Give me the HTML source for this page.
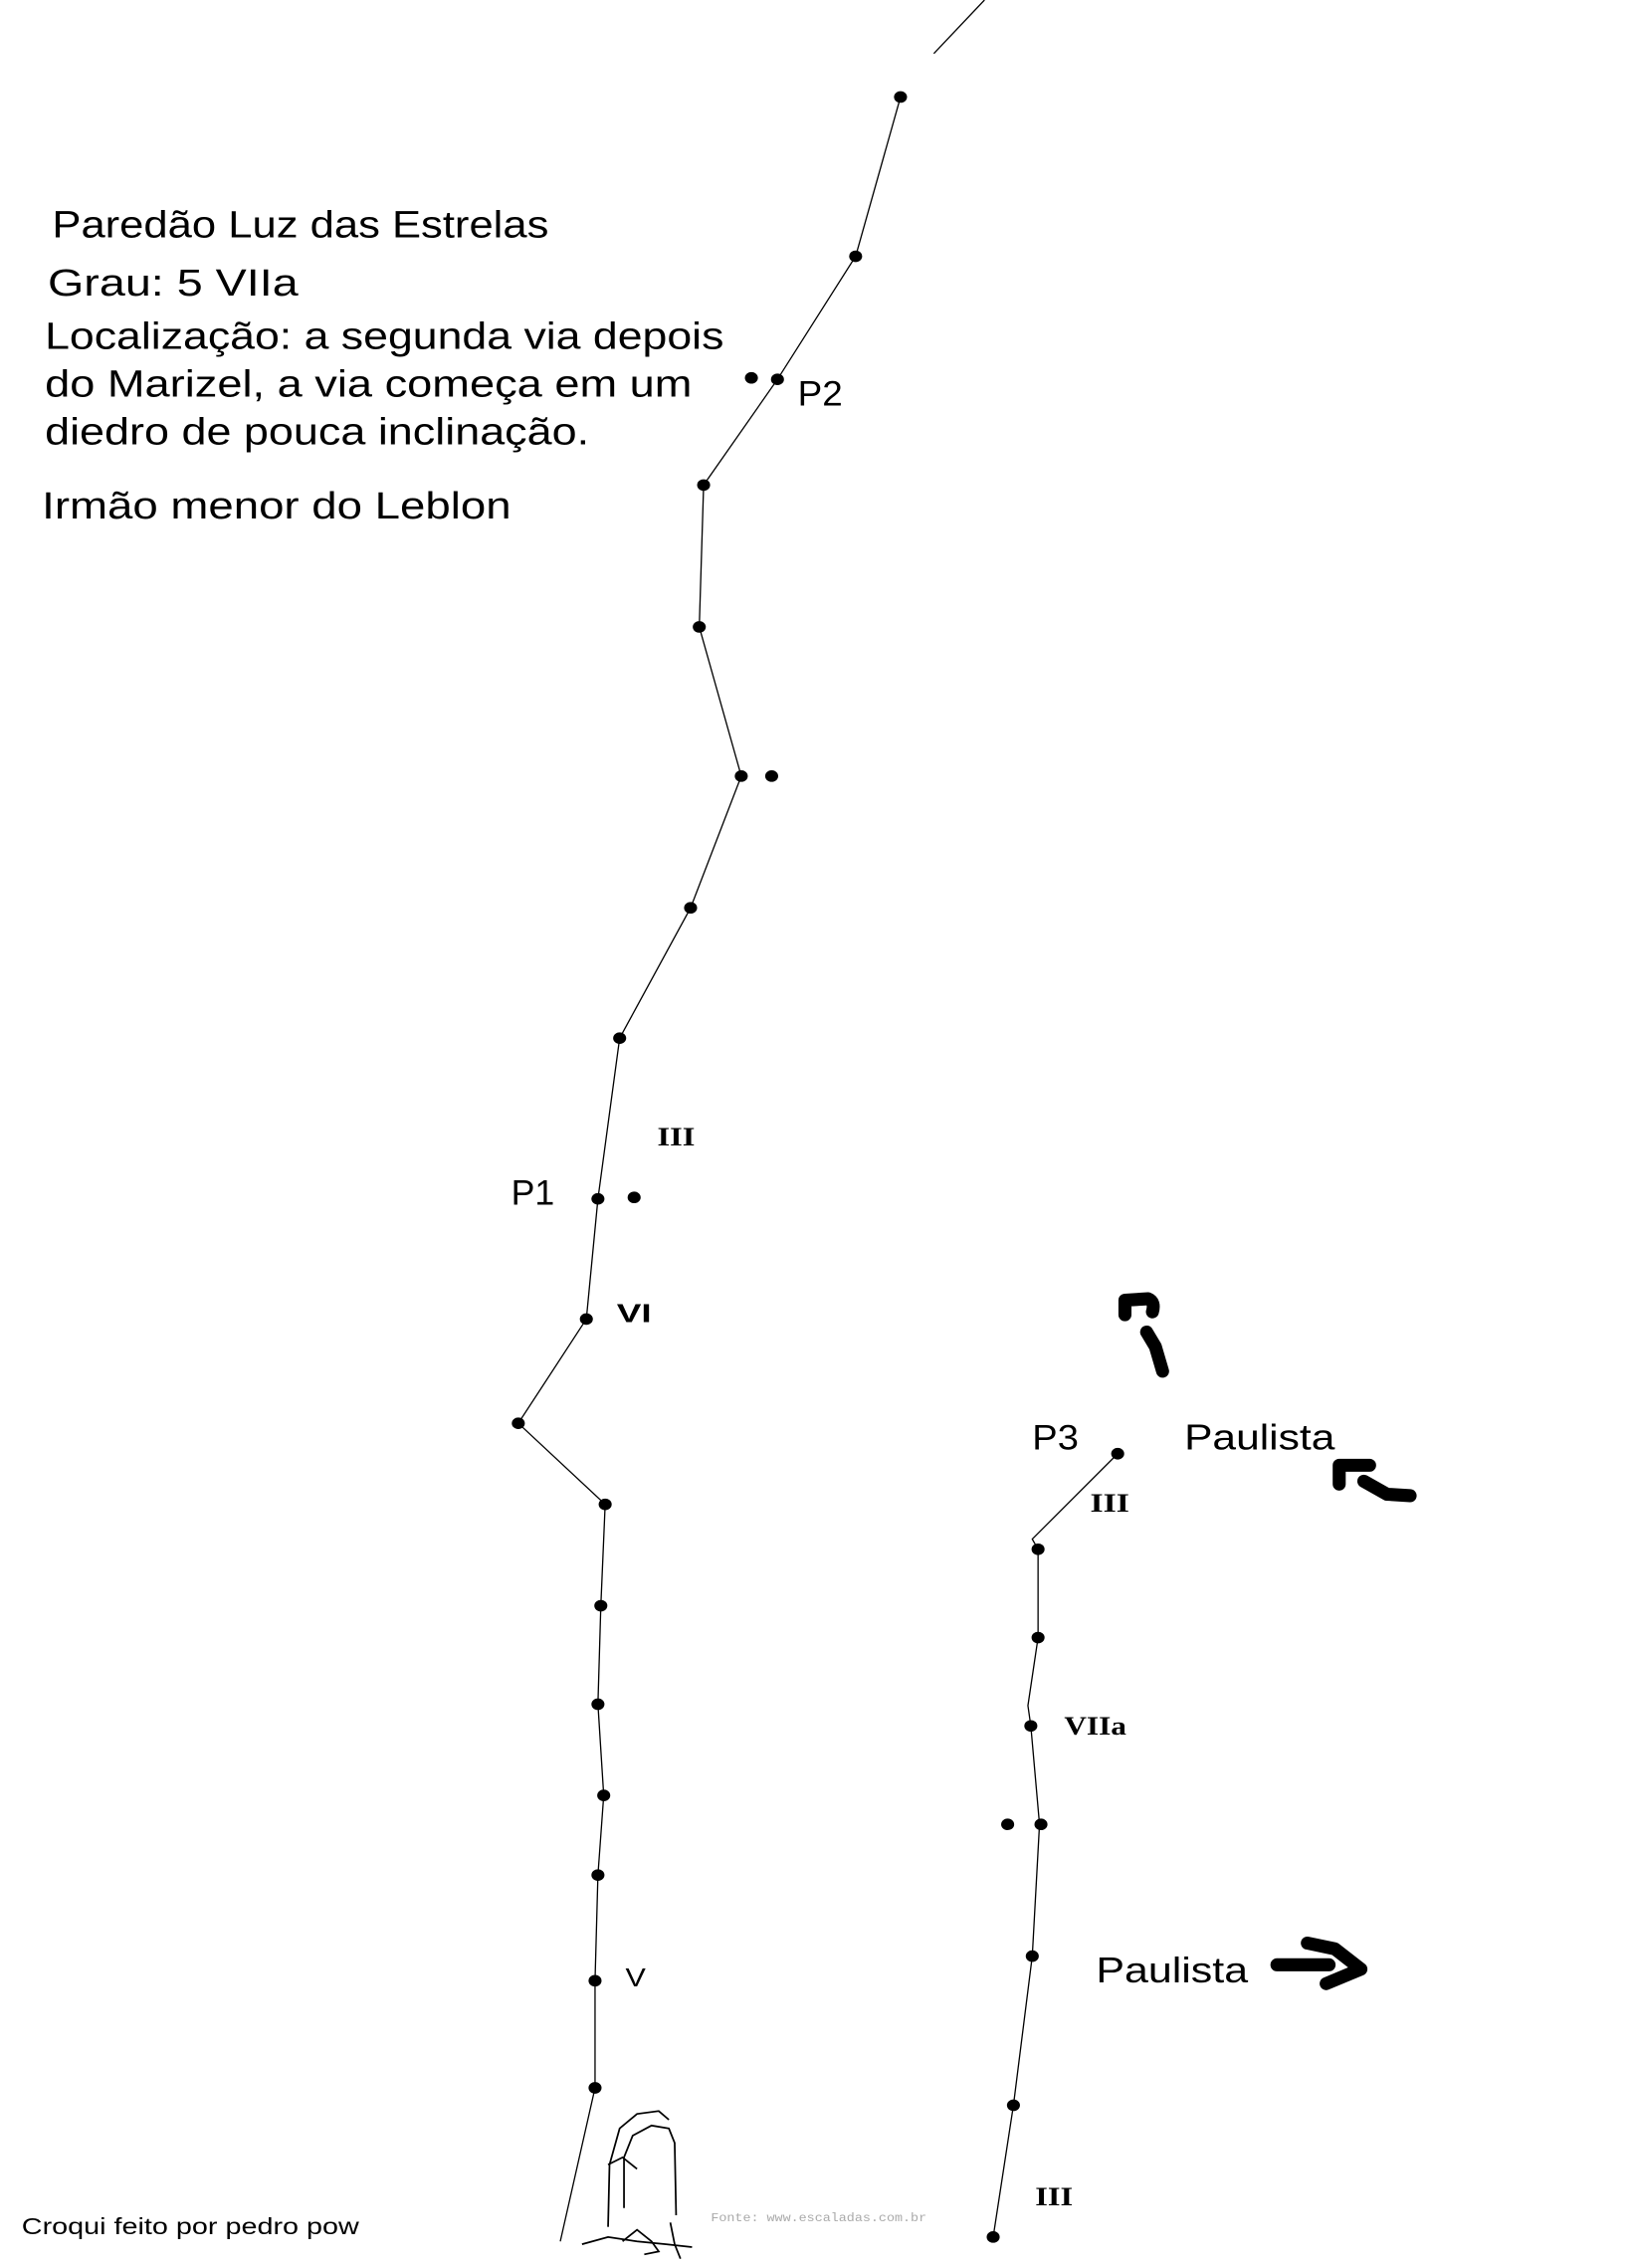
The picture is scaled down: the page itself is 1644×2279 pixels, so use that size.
<!DOCTYPE html>
<html><head><meta charset="utf-8"><style>html,body{margin:0;padding:0;background:#fff}svg{display:block}</style></head>
<body>
<svg width="1644" height="2279" viewBox="0 0 1130 1566.4" preserveAspectRatio="none" xmlns="http://www.w3.org/2000/svg">
<rect width="1130" height="1567" fill="#fff"/>
<g fill="none" stroke="#000" stroke-width="0.9">
<line x1="645" y1="37" x2="680" y2="0"/>
<polyline points="622,67 591,177 537,262 486,335 483,433 512,536 477,627 428,717 413,828 405,911 358,983 418,1039 415,1109 413,1177 417,1240 413,1295 411,1368 411,1442 387,1548"/>
<polyline points="772,1004 713,1063 717,1070 717,1131 710,1178 712,1192 718,1260 713,1351 700,1454 686,1545"/>
</g>
<g fill="#000">
<ellipse cx="622" cy="67" rx="4.5" ry="4"/><ellipse cx="591" cy="177" rx="4.5" ry="4"/><ellipse cx="537" cy="262" rx="4.5" ry="4"/><ellipse cx="519" cy="261" rx="4.5" ry="4"/>
<ellipse cx="486" cy="335" rx="4.5" ry="4"/><ellipse cx="483" cy="433" rx="4.5" ry="4"/><ellipse cx="512" cy="536" rx="4.5" ry="4"/><ellipse cx="533" cy="536" rx="4.5" ry="4"/>
<ellipse cx="477" cy="627" rx="4.5" ry="4"/><ellipse cx="428" cy="717" rx="4.5" ry="4"/><ellipse cx="413" cy="828" rx="4.5" ry="4"/><ellipse cx="438" cy="827" rx="4.5" ry="4"/>
<ellipse cx="405" cy="911" rx="4.5" ry="4"/><ellipse cx="358" cy="983" rx="4.5" ry="4"/><ellipse cx="418" cy="1039" rx="4.5" ry="4"/><ellipse cx="415" cy="1109" rx="4.5" ry="4"/>
<ellipse cx="413" cy="1177" rx="4.5" ry="4"/><ellipse cx="417" cy="1240" rx="4.5" ry="4"/><ellipse cx="413" cy="1295" rx="4.5" ry="4"/><ellipse cx="411" cy="1368" rx="4.5" ry="4"/>
<ellipse cx="411" cy="1442" rx="4.5" ry="4"/>
<ellipse cx="772" cy="1004" rx="4.5" ry="4"/><ellipse cx="717" cy="1070" rx="4.5" ry="4"/><ellipse cx="717" cy="1131" rx="4.5" ry="4"/><ellipse cx="712" cy="1192" rx="4.5" ry="4"/>
<ellipse cx="696" cy="1260" rx="4.5" ry="4"/><ellipse cx="719" cy="1260" rx="4.5" ry="4"/><ellipse cx="713" cy="1351" rx="4.5" ry="4"/><ellipse cx="700" cy="1454" rx="4.5" ry="4"/>
<ellipse cx="686" cy="1545" rx="4.5" ry="4"/>
</g>
<g fill="none" stroke="#000" stroke-width="9" stroke-linecap="round" stroke-linejoin="round">
<path d="M777,908 L777,898 L793,897 Q798,899 796,906"/>
<path d="M792,920 L798,930 L803,947"/>
<path d="M925,1025 L925,1012 L946,1012"/>
<path d="M942,1023 L958,1032 L974,1033"/>
<path d="M882,1357 L918,1357"/>
<path d="M903,1342 L922,1346 L940,1360 L916,1370"/>
</g>
<g fill="none" stroke="#000" stroke-width="1.2">
<path d="M420,1538 L421,1495 L428,1470 L440,1460 L455,1458 L462,1464"/>
<path d="M420,1495 L430,1490 L440,1498"/>
<path d="M431,1525 L431,1490 L437,1475 L450,1468 L462,1470 L466,1480 L467,1530"/>
<path d="M402,1550 L420,1545 L440,1548 L460,1550 L478,1552"/>
<path d="M430,1548 L440,1540 L450,1548 L455,1555 L445,1557"/>
<path d="M463,1535 L466,1550 L470,1560"/>
</g>
<g font-family="Liberation Sans, DejaVu Sans, sans-serif" fill="#000">
<text x="36" y="164" font-size="26" textLength="343" lengthAdjust="spacingAndGlyphs">Paredão Luz das Estrelas</text>
<text x="33" y="204" font-size="26" textLength="173" lengthAdjust="spacingAndGlyphs">Grau: 5 VIIa</text>
<text x="31" y="241" font-size="26" textLength="469" lengthAdjust="spacingAndGlyphs">Localização: a segunda via depois</text>
<text x="31" y="274" font-size="26" textLength="447" lengthAdjust="spacingAndGlyphs">do Marizel, a via começa em um</text>
<text x="31" y="307" font-size="26" textLength="376" lengthAdjust="spacingAndGlyphs">diedro de pouca inclinação.</text>
<text x="29" y="358" font-size="26" textLength="324" lengthAdjust="spacingAndGlyphs">Irmão menor do Leblon</text>
<text x="551" y="280" font-size="24" textLength="31" lengthAdjust="spacingAndGlyphs">P2</text>
<text x="353" y="832" font-size="24" textLength="30" lengthAdjust="spacingAndGlyphs">P1</text>
<text x="713" y="1001" font-size="24" textLength="32" lengthAdjust="spacingAndGlyphs">P3</text>
<text x="818" y="1001" font-size="25" textLength="104" lengthAdjust="spacingAndGlyphs">Paulista</text>
<text x="757" y="1369" font-size="25" textLength="105" lengthAdjust="spacingAndGlyphs">Paulista</text>
<text x="426" y="913" font-size="18" font-weight="bold" textLength="24" lengthAdjust="spacingAndGlyphs">VI</text>
<text x="432" y="1372" font-size="18" textLength="14" lengthAdjust="spacingAndGlyphs">V</text>
<text x="15" y="1543" font-size="16" textLength="233" lengthAdjust="spacingAndGlyphs">Croqui feito por pedro pow</text>
</g>
<g font-family="Liberation Serif, DejaVu Serif, serif" fill="#000" font-size="18" font-weight="bold">
<text x="454" y="791" textLength="26" lengthAdjust="spacingAndGlyphs">III</text>
<text x="753" y="1044" textLength="27" lengthAdjust="spacingAndGlyphs">III</text>
<text x="735" y="1198" textLength="43" lengthAdjust="spacingAndGlyphs">VIIa</text>
<text x="715" y="1523" textLength="26" lengthAdjust="spacingAndGlyphs">III</text>
</g>
<text x="491" y="1534" font-family="Liberation Mono, monospace" font-size="8" fill="#aaa" textLength="149" lengthAdjust="spacingAndGlyphs">Fonte: www.escaladas.com.br</text>
</svg>
</body></html>
